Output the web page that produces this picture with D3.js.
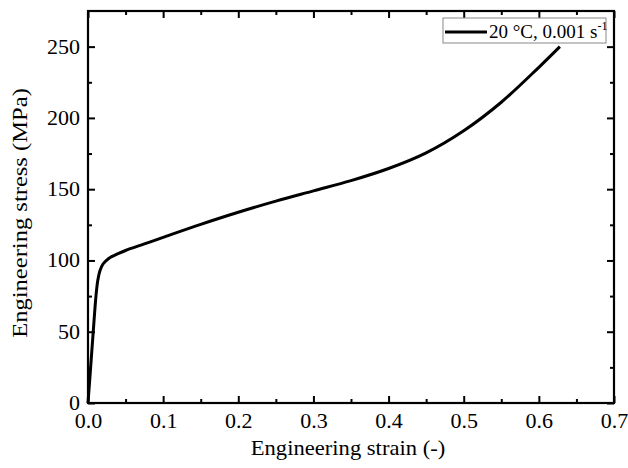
<!DOCTYPE html>
<html>
<head>
<meta charset="utf-8">
<script src="https://cdn.jsdelivr.net/npm/d3@7"></script>
<style>
  body { margin: 0; background: #fff; }
  svg { display: block; }
  text { font-family: "Liberation Serif", "Times New Roman", serif; fill: #000; }
</style>
</head>
<body>
<div id="chart"></div>
<script>
// curve: strain (-) and stress (MPa)
const strain = [0, 0.0035, 0.0071, 0.0106, 0.013, 0.016, 0.02, 0.025, 0.03, 0.04, 0.05, 0.075,
  0.1, 0.15, 0.2, 0.25, 0.3, 0.35, 0.4, 0.45, 0.5, 0.55, 0.6, 0.628];
const stress = [0, 25, 51, 75, 86, 93, 97.5, 100.3, 102.3, 104.8, 107, 111.6,
  116.2, 125.3, 133.8, 141.6, 148.8, 156, 164.5, 175.5, 191, 211, 235.5, 250];
const xTicks = [0, 0.1, 0.2, 0.3, 0.4, 0.5, 0.6, 0.7];
const yTicks = [0, 50, 100, 150, 200, 250];
const seriesName = "20 °C, 0.001 s";

const width = 628, height = 468;
const margin = {top: 11, right: 14, bottom: 65, left: 88};
const w = width - margin.left - margin.right;
const h = height - margin.top - margin.bottom;

const x = d3.scaleLinear().domain([0, 0.7]).range([0, w]);
const y = d3.scaleLinear().domain([0, 275]).range([h, 0]);

const svg = d3.select("#chart").append("svg")
  .attr("width", width)
  .attr("height", height);

const g = svg.append("g")
  .attr("transform", "translate(" + margin.left + "," + margin.top + ")");

// minor ticks (no labels), pointing inward
const xMinor = d3.range(0.05, 0.7, 0.1);
const yMinor = d3.range(25, 275, 50);

function styleAxis(sel) {
  sel.select(".domain").remove();
  sel.selectAll(".tick line").attr("stroke", "#000").attr("stroke-width", 2);
}

g.append("g").attr("transform", "translate(0," + h + ")")
  .call(d3.axisBottom(x).tickValues(xMinor).tickSize(-4).tickFormat(""))
  .call(styleAxis);
g.append("g")
  .call(d3.axisTop(x).tickValues(xMinor).tickSize(-4).tickFormat(""))
  .call(styleAxis);
g.append("g")
  .call(d3.axisLeft(y).tickValues(yMinor).tickSize(-4).tickFormat(""))
  .call(styleAxis);
g.append("g").attr("transform", "translate(" + w + ",0)")
  .call(d3.axisRight(y).tickValues(yMinor).tickSize(-4).tickFormat(""))
  .call(styleAxis);

// major ticks
const xAxis = g.append("g").attr("transform", "translate(0," + h + ")")
  .call(d3.axisBottom(x).tickValues(xTicks).tickSize(-7).tickPadding(11).tickFormat(d3.format(".1f")))
  .call(styleAxis);
xAxis.selectAll("text")
  .attr("font-size", 20)
  .attr("dy", "0.72em")
  .attr("transform", "scale(1.1,1)");

g.append("g")
  .call(d3.axisTop(x).tickValues(xTicks).tickSize(-7).tickFormat(""))
  .call(styleAxis);

const yAxis = g.append("g")
  .call(d3.axisLeft(y).tickValues(yTicks).tickSize(-7).tickPadding(8))
  .call(styleAxis);
yAxis.selectAll("text")
  .attr("font-size", 20)
  .attr("x", -7.3)
  .attr("transform", "scale(1.1,1)");

g.append("g").attr("transform", "translate(" + w + ",0)")
  .call(d3.axisRight(y).tickValues(yTicks).tickSize(-7).tickFormat(""))
  .call(styleAxis);

// frame
g.append("rect")
  .attr("width", w).attr("height", h)
  .attr("fill", "none").attr("stroke", "#000").attr("stroke-width", 2.2);

// curve
const line = d3.line()
  .x((d, i) => x(strain[i]))
  .y(d => y(d))
  .curve(d3.curveCatmullRom.alpha(0.5));

g.append("path")
  .datum(stress)
  .attr("fill", "none")
  .attr("stroke", "#000")
  .attr("stroke-width", 3)
  .attr("stroke-linejoin", "round")
  .attr("d", line);

// axis titles
svg.append("text")
  .attr("transform", "translate(348,455) scale(1.13,1)")
  .attr("text-anchor", "middle")
  .attr("font-size", 20)
  .text("Engineering strain (-)");

svg.append("text")
  .attr("transform", "translate(27,213) rotate(-90) scale(1.17,1)")
  .attr("text-anchor", "middle")
  .attr("font-size", 21)
  .text("Engineering stress (MPa)");

// legend
const lg = svg.append("g").attr("transform", "translate(443,18)");
lg.append("rect")
  .attr("width", 163).attr("height", 25)
  .attr("fill", "#fff").attr("stroke", "#888").attr("stroke-width", 1);
lg.append("line")
  .attr("x1", 2).attr("x2", 44).attr("y1", 14).attr("y2", 14)
  .attr("stroke", "#000").attr("stroke-width", 3);
const lt = lg.append("text")
  .attr("x", 46).attr("y", 20)
  .attr("font-size", 19);
lt.append("tspan").text(seriesName);
lt.append("tspan").attr("font-size", 12).attr("dy", -8).text("-1");
</script>
</body>
</html>
